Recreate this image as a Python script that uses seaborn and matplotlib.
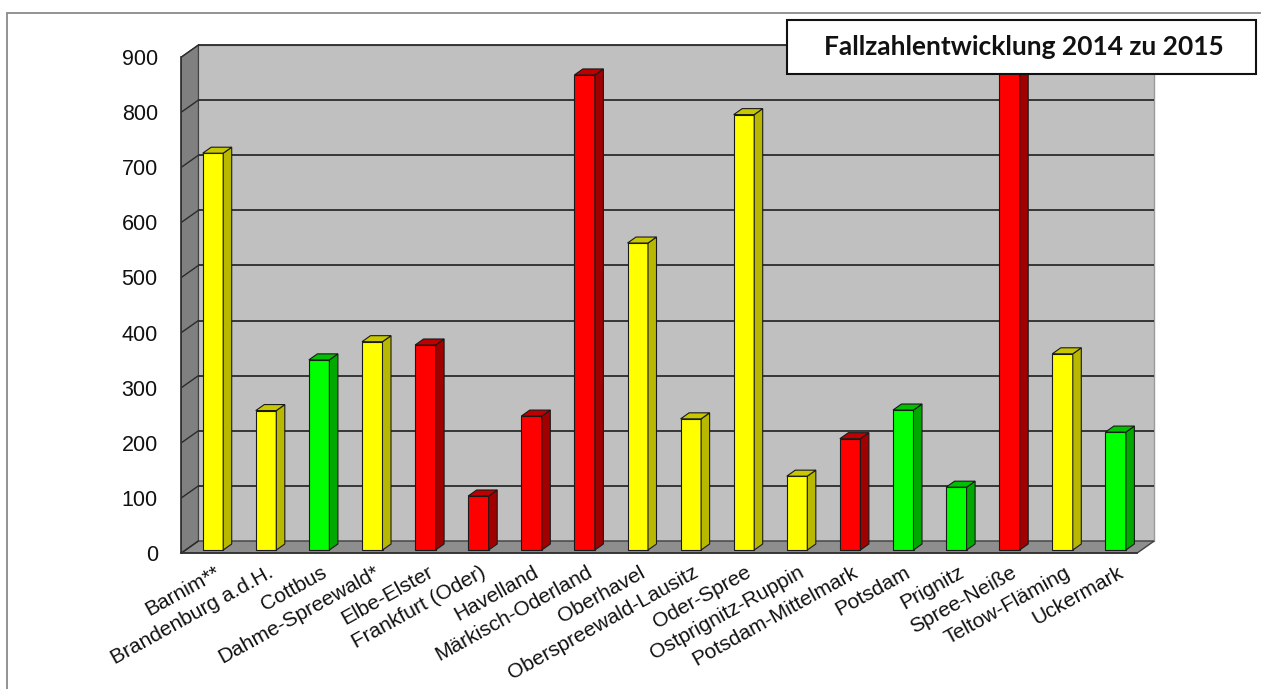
import numpy as np
import pandas as pd
import matplotlib
matplotlib.use("Agg")
import matplotlib.pyplot as plt
from matplotlib.patches import Polygon, Rectangle
import seaborn as sns

# ---- data -------------------------------------------------------------
categories = [
    "Barnim**", "Brandenburg a.d.H.", "Cottbus", "Dahme-Spreewald*",
    "Elbe-Elster", "Frankfurt (Oder)", "Havelland", "Märkisch-Oderland",
    "Oberhavel", "Oberspreewald-Lausitz", "Oder-Spree", "Ostprignitz-Ruppin",
    "Potsdam-Mittelmark", "Potsdam", "Prignitz", "Spree-Neiße",
    "Teltow-Fläming", "Uckermark",
]
cases = [720, 253, 345, 378, 372, 98, 243, 862, 557, 238, 790, 134,
         202, 254, 114, 880, 356, 214]
trend = ["gelb", "gelb", "grün", "gelb", "rot", "rot", "rot", "rot", "gelb",
         "gelb", "gelb", "gelb", "rot", "grün", "grün", "rot", "gelb", "grün"]
y_ticks = [0, 100, 200, 300, 400, 500, 600, 700, 800, 900]
title = "Fallzahlentwicklung 2014 zu 2015"

# ---- styling ------------------------------------------------------------
face = {"gelb": "#FFFF00", "rot": "#FF0000", "grün": "#00FF00"}
side = {"gelb": "#B8B800", "rot": "#A00000", "grün": "#00A800"}
top = {"gelb": "#C8C800", "rot": "#C00000", "grün": "#00C000"}

sns.set_style("white")
plt.rcParams["font.family"] = ["Liberation Sans", "DejaVu Sans"]

W, H = 1261, 689
fig = plt.figure(figsize=(W / 100, H / 100), dpi=100)
fig.patch.set_facecolor("white")

# front plane of the plot box in pixels
x_left, x_right = 181.4, 1137.2
y_base, y_top = 553, 57
ax = fig.add_axes([x_left / W, 1 - y_base / H,
                   (x_right - x_left) / W, (y_base - y_top) / H])
ax.set_facecolor("none")

n = len(categories)
px_x = (x_right - x_left) / n        # pixels per category
px_y = (y_base - y_top) / 900.0      # pixels per value unit

# oblique depth offsets (in data units)
DX, DY = 17 / px_x, 12 / px_y        # wall depth
BX, BY = 5 / px_x, 3 / px_y          # bar front face position
BDX, BDY = 8.5 / px_x, 6 / px_y      # bar depth

df = pd.DataFrame({"Landkreis": categories, "Fälle": cases, "Trend": trend})
palette = {c: face[t] for c, t in zip(categories, trend)}

sns.barplot(data=df, x="Landkreis", y="Fälle", hue="Landkreis",
            order=categories, palette=palette, saturation=1,
            width=20.5 / px_x, edgecolor="#1a1a1a", linewidth=0.8,
            legend=False, ax=ax, zorder=3)
bars = list(ax.patches)

ax.set_xlim(-0.5, n - 0.5)
ax.set_ylim(0, 900)

# ---- walls and floor ----------------------------------------------------
x0, x1 = -0.5, n - 0.5
back = Polygon([(x0 + DX, DY), (x1 + DX, DY), (x1 + DX, 900 + DY),
                (x0 + DX, 900 + DY)], closed=True, facecolor="#C0C0C0",
               edgecolor="#9a9a9a", lw=1.0, clip_on=False, zorder=0.1)
ax.add_patch(back)
left_wall = Polygon([(x0, 0), (x0, 900), (x0 + DX, 900 + DY), (x0 + DX, DY)],
                    closed=True, facecolor="#808080", edgecolor="#404040",
                    lw=0.8, clip_on=False, zorder=0.2)
ax.add_patch(left_wall)
floor = Polygon([(x0, 0), (x1, 0), (x1 + DX, DY), (x0 + DX, DY)],
                closed=True, facecolor="#8E8E8E", edgecolor="#404040",
                lw=1.0, clip_on=False, zorder=0.3)
ax.add_patch(floor)

for v in y_ticks:
    if v > 0:
        ax.plot([x0 + DX, x1 + DX], [v + DY, v + DY], color="#2b2b2b",
                lw=1.3, clip_on=False, zorder=0.25, solid_capstyle="butt")
    ax.plot([x0, x0 + DX], [v, v + DY], color="#2b2b2b", lw=1.0,
            clip_on=False, zorder=0.35)

# ---- 3D bars -------------------------------------------------------------
for p in bars:
    idx = int(round(p.get_x() + p.get_width() / 2))
    t = trend[idx]
    p.set_x(p.get_x() + BX)
    p.set_y(BY)
    px0, w = p.get_x(), p.get_width()
    py0, h = p.get_y(), p.get_height()
    s = Polygon([(px0 + w, py0), (px0 + w + BDX, py0 + BDY),
                 (px0 + w + BDX, py0 + h + BDY), (px0 + w, py0 + h)],
                closed=True, facecolor=side[t], edgecolor="#1a1a1a",
                lw=0.8, clip_on=False, zorder=3)
    tp = Polygon([(px0, py0 + h), (px0 + w, py0 + h),
                  (px0 + w + BDX, py0 + h + BDY), (px0 + BDX, py0 + h + BDY)],
                 closed=True, facecolor=top[t], edgecolor="#1a1a1a",
                 lw=0.8, clip_on=False, zorder=3)
    ax.add_patch(s)
    ax.add_patch(tp)

# ---- axes, ticks, labels ---------------------------------------------------
for k in ["top", "right"]:
    ax.spines[k].set_visible(False)
for k in ["left", "bottom"]:
    ax.spines[k].set_color("#303030")
    ax.spines[k].set_linewidth(1.2)
    ax.spines[k].set_zorder(4)

ax.set_yticks(y_ticks)
ax.set_yticklabels([str(v) for v in y_ticks], fontsize=15.5, color="#111111")
ax.tick_params(axis="y", length=6, width=1.0, color="#303030", pad=11,
               direction="out")

ax.set_xticks(np.arange(n) + 0.12)
ax.set_xticklabels(categories, rotation=29, ha="right",
                   rotation_mode="anchor", fontsize=15, color="#111111")
ax.set_xticks(np.arange(-0.5, n, 1.0), minor=True)
ax.tick_params(axis="x", which="major", length=0, pad=7)
ax.tick_params(axis="x", which="minor", length=6, width=1.0,
               color="#303030", direction="out")
ax.set_xlabel("")
ax.set_ylabel("")

# ---- frame and title box ----------------------------------------------------
border = Rectangle((7 / W, -0.1), 1.2, 1 - 13 / H + 0.1,
                   transform=fig.transFigure, facecolor="none",
                   edgecolor="#8a8a8a", lw=1.3, zorder=10)
fig.add_artist(border)

bx0, bx1 = 787 / W, 1256 / W
by0, by1 = 1 - 74 / H, 1 - 20 / H
title_box = Rectangle((bx0, by0), bx1 - bx0, by1 - by0,
                      transform=fig.transFigure, facecolor="white",
                      edgecolor="#111111", lw=1.5, zorder=10)
fig.add_artist(title_box)
fig.text((bx0 + bx1) / 2 + 2 / W, (by0 + by1) / 2, title,
         ha="center", va="center", fontsize=19, fontweight="bold",
         family=["Lato", "DejaVu Sans"], color="#111111", zorder=11)

fig.savefig("out.png", dpi=100)
